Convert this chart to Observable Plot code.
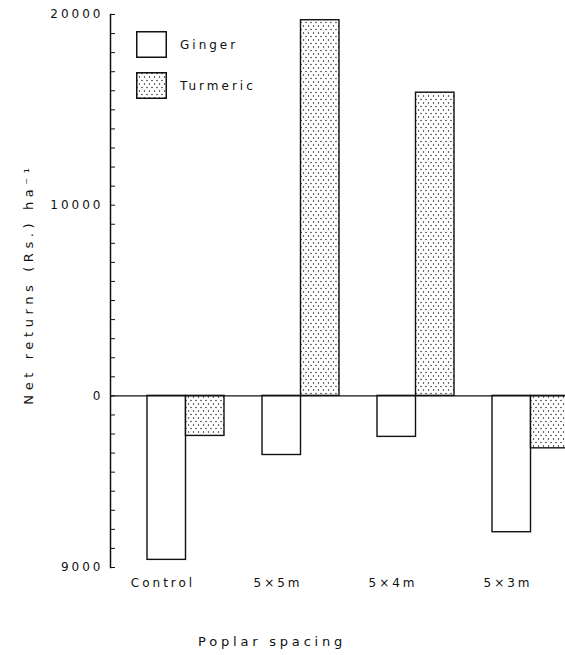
<!DOCTYPE html>
<html><head><meta charset="utf-8">
<script src="https://cdn.jsdelivr.net/npm/d3@7"></script>
<script src="https://cdn.jsdelivr.net/npm/@observablehq/plot@0.6"></script>
<style>
html,body{margin:0;padding:0;background:#fff;overflow:hidden;}
#wrap{position:relative;width:565px;height:655px;overflow:hidden;font-family:"DejaVu Sans",sans-serif;color:#111;}
#legend{position:absolute;left:136px;top:31px;font-size:12px;letter-spacing:3px;}
.item{display:flex;align-items:center;height:27px;margin-bottom:14px;}
.item svg{display:block;margin-right:13px;}
#xtitle{position:absolute;left:198px;top:634px;font-size:13px;letter-spacing:3.8px;}
</style></head><body>
<svg width="0" height="0" style="position:absolute">
  <defs>
    <pattern id="dots" patternUnits="userSpaceOnUse" width="5" height="7">
      <rect width="5" height="7" fill="#fff"/>
      <circle cx="1" cy="1.5" r="0.7" fill="#111"/>
      <circle cx="3.5" cy="5" r="0.7" fill="#111"/>
    </pattern>
  </defs>
</svg>
<div id="wrap"></div>
<script>
const spacings = ["Control", "5×5m", "5×4m", "5×3m"];
const crops = ["Ginger", "Turmeric"];
const cropFills = ["#fff", "url(#dots)"];
const gingerValues = [-8600, -3100, -2150, -7150];
const turmericValues = [-2100, 19700, 15900, -2750];
const yTickValues = [20000, 10000, 0, -9000];
const yTickLabels = ["20000", "10000", "0", "9000"];
const yDomain = [-9000, 20000];
const yMinorTicks = d3.range(-9000, 20001, 1000);
const yLabel = "Net returns (Rs.) ha⁻¹";
const xLabel = "Poplar spacing";

const ginger = spacings.map((s, i) => ({spacing: s, crop: crops[0], value: gingerValues[i]}));
const turmeric = spacings.map((s, i) => ({spacing: s, crop: crops[1], value: turmericValues[i]}));

const chart = Plot.plot({
  width: 565, height: 600,
  marginLeft: 110, marginRight: 0, marginTop: 14, marginBottom: 33,
  style: {fontFamily: "DejaVu Sans, sans-serif", fontSize: "12px", color: "#111", background: "#fff", letterSpacing: "3px", overflow: "hidden"},
  x: {domain: spacings, range: [110, 606], paddingInner: 0.33, paddingOuter: 0.32, align: 0.5},
  y: {domain: yDomain},
  marks: [
    Plot.barY(ginger, {x: "spacing", y: "value", insetRight: 38.5, fill: cropFills[0], stroke: "#111", strokeWidth: 1.4, clip: true}),
    Plot.barY(turmeric, {x: "spacing", y: "value", insetLeft: 38.5, fill: cropFills[1], stroke: "#111", strokeWidth: 1.4, clip: true}),
    Plot.ruleY([0], {stroke: "#111", strokeWidth: 1.4}),
    Plot.frame({anchor: "left", stroke: "#111", strokeWidth: 1.5}),
    Plot.axisY({ticks: yMinorTicks, tickSize: 5, dx: 5, tickFormat: () => "", label: null, stroke: "#111"}),
    Plot.axisY({ticks: yTickValues, tickSize: 0, tickPadding: 7, tickFormat: d => yTickLabels[yTickValues.indexOf(d)], label: null}),
    Plot.axisX({tickSize: 0, tickPadding: 11, dx: -23, label: null}),
    Plot.text([yLabel], {frameAnchor: "left", textAnchor: "middle", rotate: -90, dx: -82, dy: -7, fontSize: 13})
  ]
});

const wrap = document.getElementById("wrap");
wrap.appendChild(chart);
chart.querySelectorAll("text").forEach(t => { if (t.textContent === yLabel) t.style.letterSpacing = "4.6px"; });

const legend = document.createElement("div");
legend.id = "legend";
crops.forEach((c, i) => {
  const item = document.createElement("div");
  item.className = "item";
  item.innerHTML = `<svg width="31" height="27"><rect x="0.75" y="0.75" width="29.5" height="25.5" fill="${cropFills[i]}" stroke="#111" stroke-width="1.5"/></svg><span>${c}</span>`;
  legend.appendChild(item);
});
wrap.appendChild(legend);

const xt = document.createElement("div");
xt.id = "xtitle";
xt.textContent = xLabel;
wrap.appendChild(xt);
</script>
</body></html>
